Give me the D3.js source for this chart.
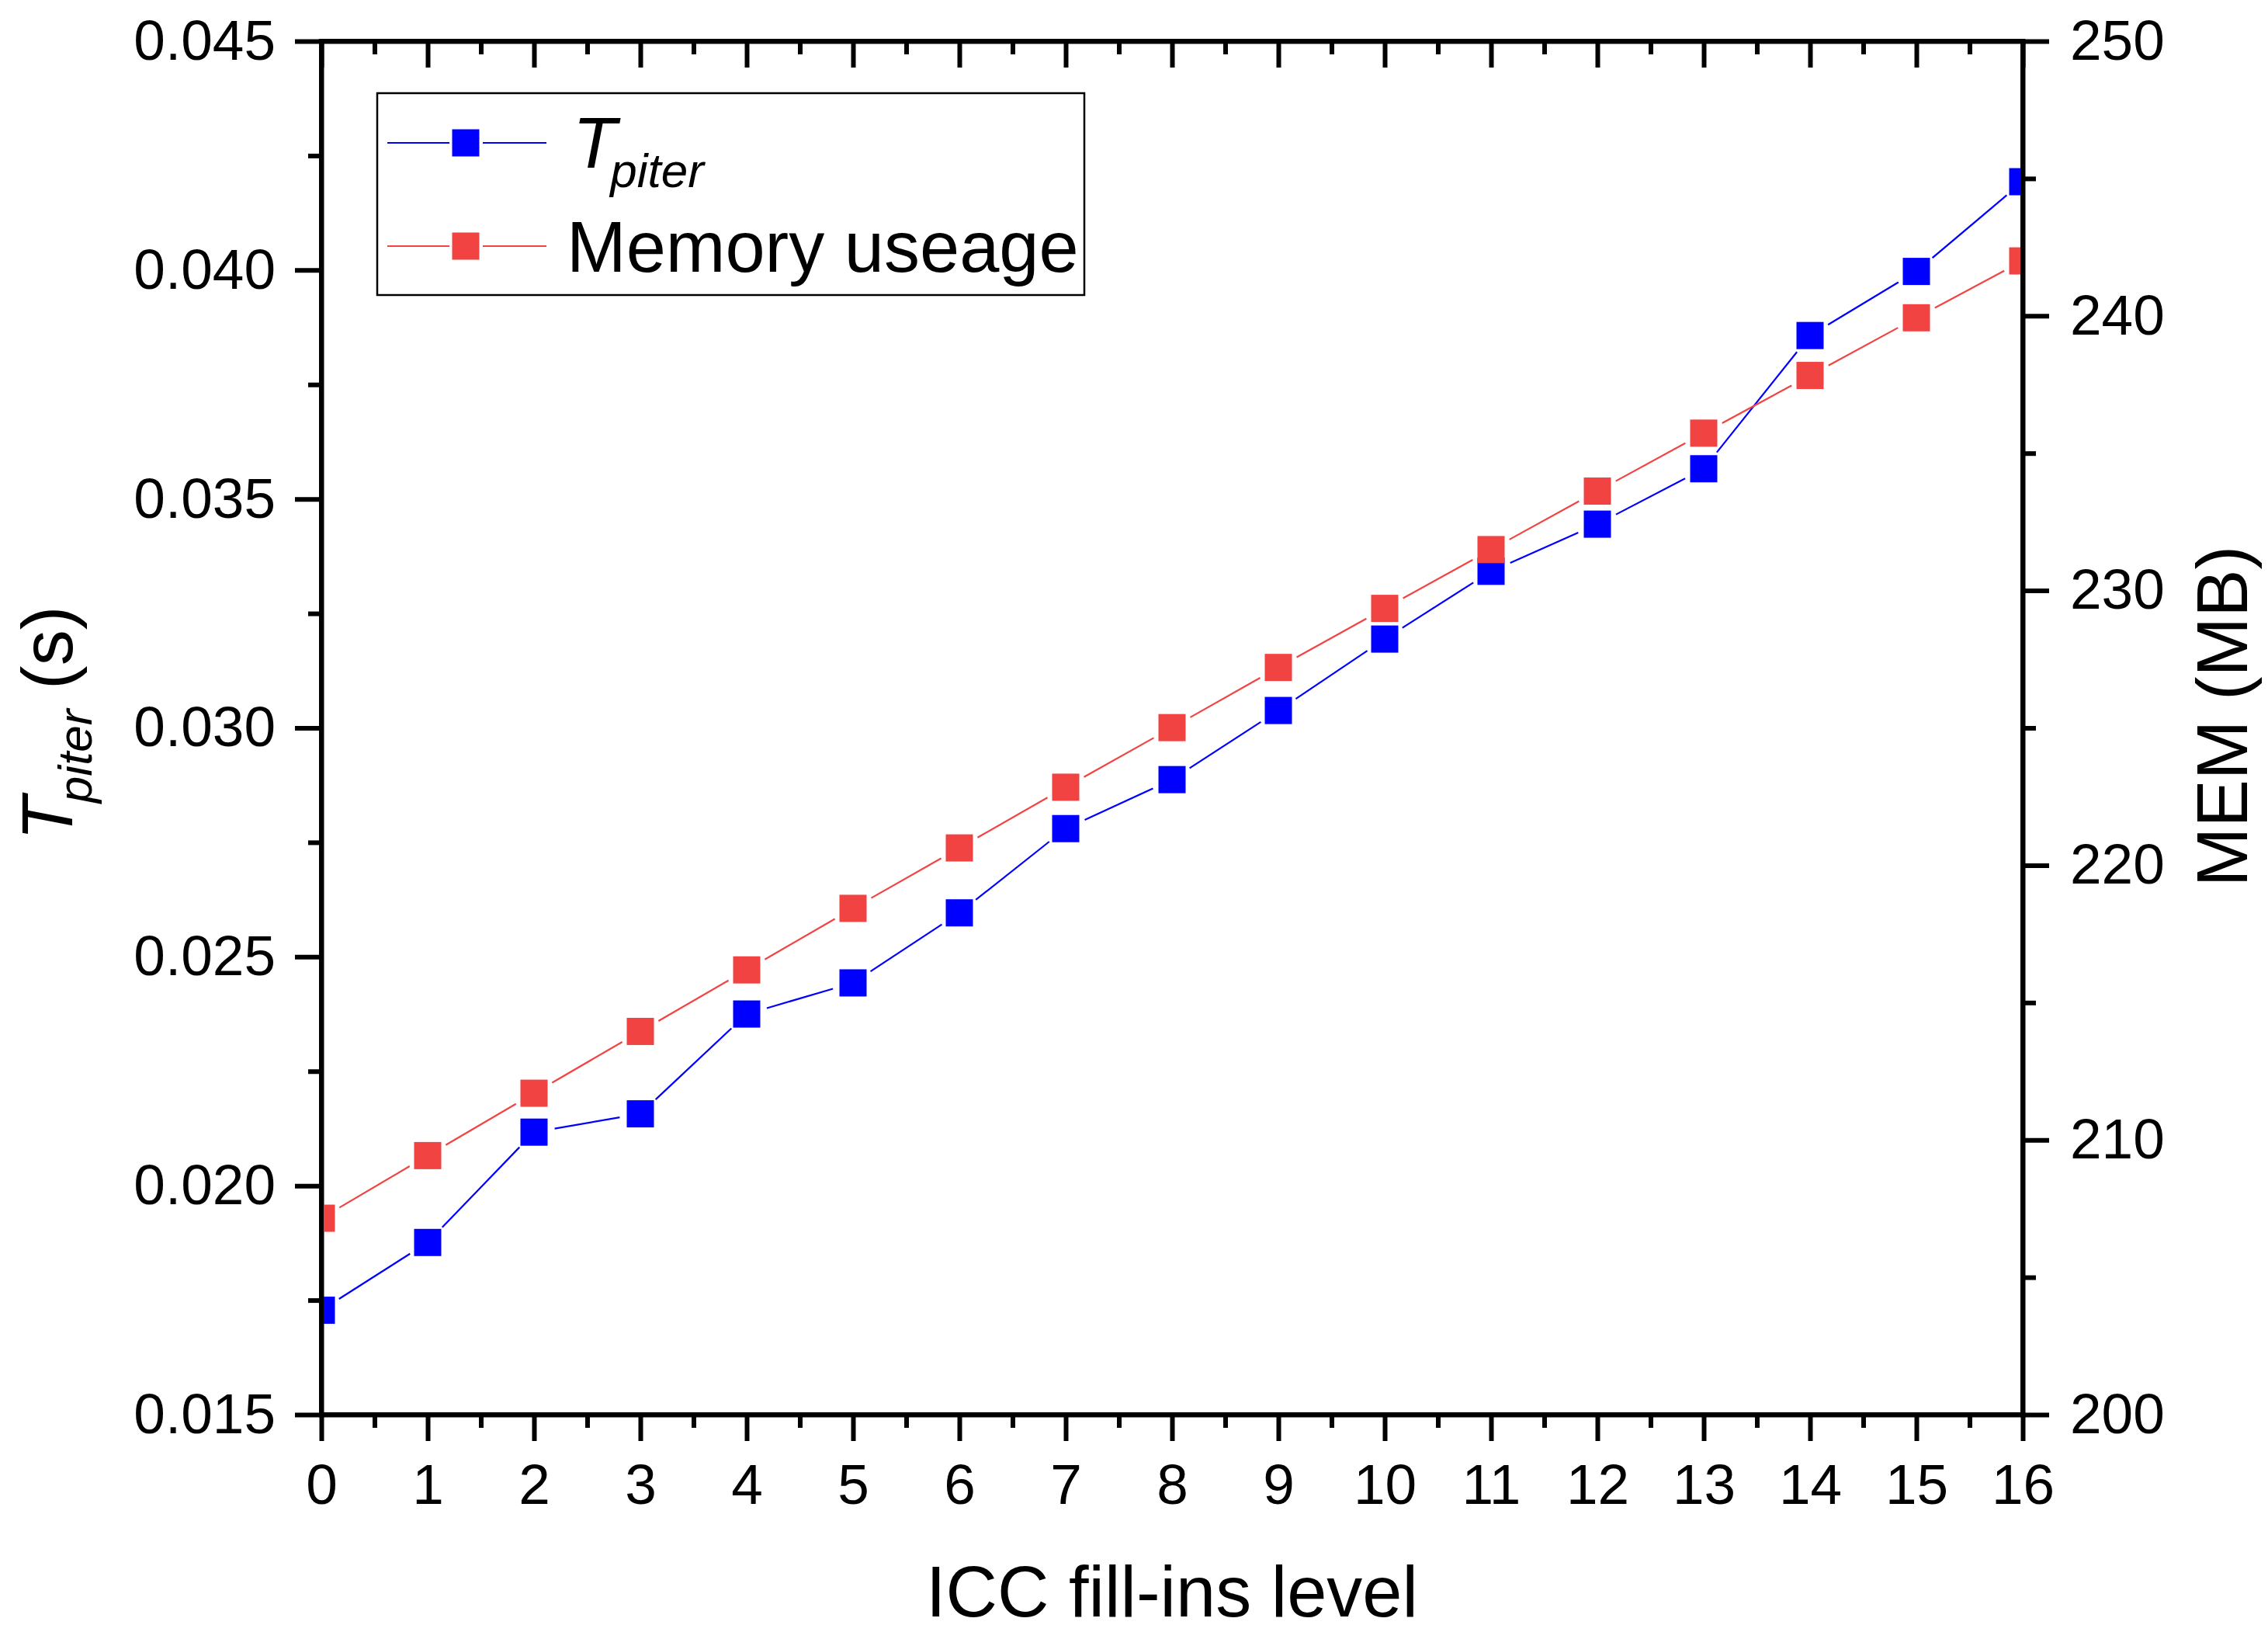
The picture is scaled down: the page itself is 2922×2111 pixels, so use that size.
<!DOCTYPE html>
<html>
<head>
<meta charset="utf-8">
<script src="https://cdn.jsdelivr.net/npm/d3@7/dist/d3.min.js"></script>
<style>
  html, body { margin: 0; padding: 0; background: #fff; }
  svg { display: block; font-family: "Liberation Sans", Arial, sans-serif; }
</style>
</head>
<body>
<svg id="chart" width="2922" height="2111"></svg>
<script>
// ---- data ----
const levels = [0, 1, 2, 3, 4, 5, 6, 7, 8, 9, 10, 11, 12, 13, 14, 15, 16];
const tpiter = [0.01728, 0.01876, 0.02117, 0.02157, 0.02375, 0.02443, 0.02596, 0.02780, 0.02887,
                0.03038, 0.03194, 0.03342, 0.03445, 0.03566, 0.03857, 0.03997, 0.04193];
const memory = [207.15, 209.43, 211.70, 213.95, 216.19, 218.43, 220.63, 222.84, 225.01,
                227.20, 229.35, 231.49, 233.62, 235.73, 237.83, 239.93, 242.00];
const xTicks = [0, 1, 2, 3, 4, 5, 6, 7, 8, 9, 10, 11, 12, 13, 14, 15, 16];
const leftTicks = [0.015, 0.020, 0.025, 0.030, 0.035, 0.040, 0.045];
const rightTicks = [200, 210, 220, 230, 240, 250];
const seriesNames = ["piter", "Memory useage"];

// ---- layout ----
const W = 2922, H = 2111;
const L = 414, R = 2606, T = 53, B = 1822;
const BLUE = "#0000FF", RED = "#F24343";
const FONT_TICK = 73, FONT_TITLE = 92;
const MAJ = 34, MIN = 17, AX_W = 6;

const svg = d3.select("#chart");
svg.append("rect").attr("width", W).attr("height", H).attr("fill", "#fff");

const x = d3.scaleLinear().domain([0, 16]).range([L, R]);
const yL = d3.scaleLinear().domain([0.015, 0.045]).range([B, T]);
const yR = d3.scaleLinear().domain([200, 250]).range([B, T]);

const mid = arr => arr.slice(0, -1).map((v, i) => (v + arr[i + 1]) / 2);

function styleAxis(g, labels) {
  g.select(".domain").attr("stroke", "#000").attr("stroke-width", AX_W).attr("stroke-linecap", "square");
  g.selectAll(".tick line").attr("stroke", "#000").attr("stroke-width", AX_W);
  g.selectAll(".tick text").attr("fill", "#000").attr("font-size", FONT_TICK)
    .attr("font-family", '"Liberation Sans", Arial, sans-serif');
  if (!labels) g.selectAll(".tick text").remove();
}

// bottom axis
const gB = svg.append("g").attr("transform", `translate(0,${B})`)
  .call(d3.axisBottom(x).tickValues(xTicks).tickSize(MAJ).tickSizeOuter(0).tickPadding(29).tickFormat(d3.format("d")));
styleAxis(gB, true);
const gBm = svg.append("g").attr("transform", `translate(0,${B})`)
  .call(d3.axisBottom(x).tickValues(mid(xTicks)).tickSize(MIN).tickSizeOuter(0).tickFormat(""));
styleAxis(gBm, false); gBm.select(".domain").remove();

// top axis (ticks inward)
const gT = svg.append("g").attr("transform", `translate(0,${T})`)
  .call(d3.axisBottom(x).tickValues(xTicks).tickSize(MAJ).tickSizeOuter(0).tickFormat(""));
styleAxis(gT, false);
const gTm = svg.append("g").attr("transform", `translate(0,${T})`)
  .call(d3.axisBottom(x).tickValues(mid(xTicks)).tickSize(MIN).tickSizeOuter(0).tickFormat(""));
styleAxis(gTm, false); gTm.select(".domain").remove();

// left axis
const gL = svg.append("g").attr("transform", `translate(${L},0)`)
  .call(d3.axisLeft(yL).tickValues(leftTicks).tickSize(MAJ).tickSizeOuter(0).tickPadding(25).tickFormat(d3.format(".3f")));
styleAxis(gL, true);
const gLm = svg.append("g").attr("transform", `translate(${L},0)`)
  .call(d3.axisLeft(yL).tickValues(mid(leftTicks)).tickSize(MIN).tickSizeOuter(0).tickFormat(""));
styleAxis(gLm, false); gLm.select(".domain").remove();

// right axis
const gR = svg.append("g").attr("transform", `translate(${R},0)`)
  .call(d3.axisRight(yR).tickValues(rightTicks).tickSize(MAJ).tickSizeOuter(0).tickPadding(27).tickFormat(d3.format("d")));
styleAxis(gR, true);
const gRm = svg.append("g").attr("transform", `translate(${R},0)`)
  .call(d3.axisRight(yR).tickValues(mid(rightTicks)).tickSize(MIN).tickSizeOuter(0).tickFormat(""));
styleAxis(gRm, false); gRm.select(".domain").remove();

// ---- data series ----
svg.append("defs").append("clipPath").attr("id", "plotclip")
  .append("rect").attr("x", L).attr("y", T).attr("width", R - L).attr("height", B - T);

const plot = svg.append("g").attr("clip-path", "url(#plotclip)");
const GAP = 27, MS = 35;

function drawSeries(vals, yScale, color) {
  const pts = levels.map((lv, i) => [x(lv), yScale(vals[i])]);
  const segs = [];
  for (let i = 0; i < pts.length - 1; i++) {
    const [x0, y0] = pts[i], [x1, y1] = pts[i + 1];
    const dx = x1 - x0, dy = y1 - y0, len = Math.hypot(dx, dy);
    const ux = dx / len, uy = dy / len;
    segs.push([x0 + ux * GAP, y0 + uy * GAP, x1 - ux * GAP, y1 - uy * GAP]);
  }
  plot.append("g").selectAll("line").data(segs).join("line")
    .attr("x1", d => d[0]).attr("y1", d => d[1]).attr("x2", d => d[2]).attr("y2", d => d[3])
    .attr("stroke", color).attr("stroke-width", 2.2);
  plot.append("g").selectAll("rect").data(pts).join("rect")
    .attr("x", d => d[0] - MS / 2).attr("y", d => d[1] - MS / 2)
    .attr("width", MS).attr("height", MS).attr("fill", color);
}
drawSeries(tpiter, yL, BLUE);
drawSeries(memory, yR, RED);

// redraw axis domain lines on top of markers
[[L, T, L, B], [R, T, R, B], [L, T, R, T], [L, B, R, B]].forEach(s => {
  svg.append("line").attr("x1", s[0]).attr("y1", s[1]).attr("x2", s[2]).attr("y2", s[3])
    .attr("stroke", "#000").attr("stroke-width", AX_W).attr("stroke-linecap", "square");
});

// ---- legend ----
const lg = svg.append("g");
lg.append("rect").attr("x", 486).attr("y", 120).attr("width", 911).attr("height", 260)
  .attr("fill", "#fff").attr("stroke", "#000").attr("stroke-width", 2.5);
const legendRows = [{ y: 184, color: BLUE }, { y: 317, color: RED }];
legendRows.forEach(r => {
  lg.append("line").attr("x1", 499).attr("x2", 579).attr("y1", r.y).attr("y2", r.y).attr("stroke", r.color).attr("stroke-width", 2.2);
  lg.append("line").attr("x1", 622).attr("x2", 704).attr("y1", r.y).attr("y2", r.y).attr("stroke", r.color).attr("stroke-width", 2.2);
  lg.append("rect").attr("x", 600 - MS / 2).attr("y", r.y - MS / 2).attr("width", MS).attr("height", MS).attr("fill", r.color);
});
const t1 = lg.append("text").attr("x", 738).attr("y", 216).attr("font-size", FONT_TITLE).attr("font-style", "italic");
t1.append("tspan").text("T");
t1.append("tspan").attr("font-size", 62).attr("dy", 25).attr("dx", -8).text(seriesNames[0]);
lg.append("text").attr("x", 730).attr("y", 350).attr("font-size", FONT_TITLE).text(seriesNames[1]);

// ---- axis titles ----
svg.append("text").attr("x", (L + R) / 2).attr("y", 2082).attr("text-anchor", "middle")
  .attr("font-size", FONT_TITLE).text("ICC fill-ins level");

const yt = svg.append("text").attr("transform", `translate(93,${(T + B) / 2 - 6}) rotate(-90)`)
  .attr("text-anchor", "middle").attr("font-size", FONT_TITLE);
yt.append("tspan").attr("font-style", "italic").text("T");
yt.append("tspan").attr("font-style", "italic").attr("font-size", 62).attr("dy", 25).attr("dx", -8).text("piter");
yt.append("tspan").attr("dy", -25).text(" (s)");

svg.append("text").attr("transform", `translate(2895,${(T + B) / 2 - 15}) rotate(-90)`)
  .attr("text-anchor", "middle").attr("font-size", FONT_TITLE).text("MEM (MB)");
</script>
</body>
</html>
